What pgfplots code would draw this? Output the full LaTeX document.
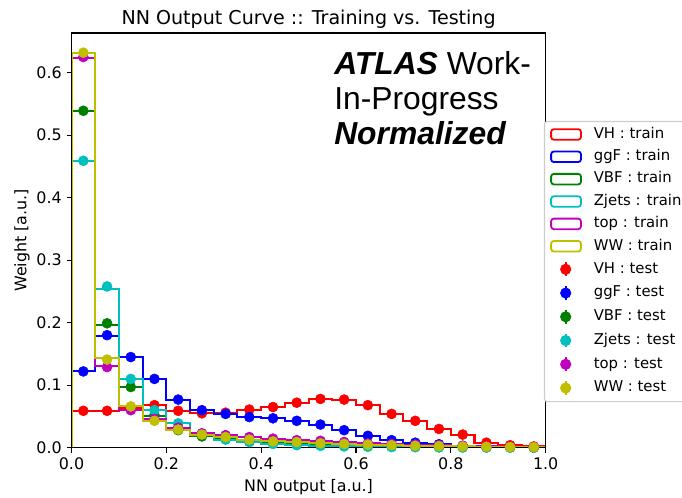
\documentclass[border=0pt]{standalone}
\usepackage{fontspec}
\setmainfont{DejaVu Sans}
\newfontfamily\lib{Liberation Sans}
\usepackage{pgfplots}
\usepackage{pgfplotstable}
\pgfplotsset{compat=1.18}

\definecolor{mr}{rgb}{1,0,0}
\definecolor{mb}{rgb}{0,0,1}
\definecolor{mg}{rgb}{0,0.5,0}
\definecolor{mc}{rgb}{0,0.75,0.75}
\definecolor{mm}{rgb}{0.75,0,0.75}
\definecolor{my}{rgb}{0.75,0.75,0}

% training histograms: x = left bin edge (const plot), first row opens, last row closes
\pgfplotstableread{
x     VH     ggF    VBF    Zjets  top    WW
0.00  0      0      0      0      0      0
0.00  0.059  0.122  0.538  0.459  0.624  0.632
0.05  0.059  0.179  0.196  0.254  0.130  0.143
0.10  0.063  0.145  0.097  0.110  0.060  0.066
0.15  0.068  0.110  0.051  0.060  0.046  0.043
0.20  0.059  0.077  0.028  0.039  0.032  0.029
0.25  0.055  0.060  0.018  0.022  0.023  0.021
0.30  0.056  0.054  0.014  0.013  0.020  0.017
0.35  0.061  0.049  0.010  0.009  0.017  0.013
0.40  0.065  0.047  0.008  0.006  0.0145 0.010
0.45  0.072  0.043  0.006  0.004  0.012  0.009
0.50  0.078  0.037  0.005  0.003  0.011  0.007
0.55  0.077  0.028  0.004  0.002  0.009  0.006
0.60  0.068  0.019  0.003  0.0015 0.007  0.005
0.65  0.054  0.012  0.002  0.001  0.006  0.004
0.70  0.043  0.008  0.0015 0.0008 0.005  0.003
0.75  0.030  0.0055 0.001  0.0005 0.004  0.0025
0.80  0.021  0.003  0.0008 0.0003 0.003  0.002
0.85  0.008  0.0015 0.0005 0.0002 0.002  0.0015
0.90  0.004  0.0008 0.0003 0.0001 0.0015 0.001
0.95  0.002  0.0003 0.0002 0.0001 0.001  0.0008
1.00  0      0      0      0      0      0
}\train

% testing points at bin centres
\pgfplotstableread{
x      VH     ggF    VBF    Zjets  top    WW
0.025  0.059  0.122  0.539  0.459  0.625  0.632
0.075  0.059  0.180  0.199  0.258  0.129  0.141
0.125  0.063  0.145  0.097  0.110  0.060  0.066
0.175  0.068  0.110  0.052  0.060  0.046  0.043
0.225  0.059  0.077  0.028  0.039  0.032  0.029
0.275  0.055  0.060  0.018  0.022  0.023  0.021
0.325  0.056  0.054  0.014  0.013  0.020  0.017
0.375  0.061  0.049  0.010  0.009  0.017  0.013
0.425  0.065  0.047  0.008  0.006  0.0145 0.010
0.475  0.072  0.043  0.006  0.004  0.012  0.009
0.525  0.078  0.037  0.005  0.003  0.011  0.007
0.575  0.077  0.028  0.004  0.002  0.009  0.006
0.625  0.068  0.019  0.003  0.0015 0.007  0.005
0.675  0.054  0.012  0.002  0.001  0.006  0.004
0.725  0.043  0.008  0.0015 0.0008 0.005  0.003
0.775  0.030  0.0055 0.001  0.0005 0.004  0.0025
0.825  0.021  0.003  0.0008 0.0003 0.003  0.002
0.875  0.008  0.0015 0.0005 0.0002 0.002  0.0015
0.925  0.004  0.0008 0.0003 0.0001 0.0015 0.001
0.975  0.002  0.0003 0.0002 0.0001 0.001  0.0008
}\test

\pgfplotsset{
  trainst/.style={const plot, no markers, line width=1.5pt, line join=miter,
    legend image code/.code={\draw[##1, line width=1.3pt] (1pt,-3.8pt) rectangle (22.5pt,3.8pt); \path (0pt,0pt) (28pt,0pt);}},
  testst/.style={only marks, mark=*, mark size=3.6pt,
    legend image code/.code={\draw[##1, line width=1.2pt] (11.5pt,-5pt) -- (11.5pt,5pt); \draw[##1] plot coordinates {(11.5pt,0pt)}; \path (0pt,0pt) (28pt,0pt);}},
}

\begin{document}
\begin{tikzpicture}
\useasboundingbox (-51.48pt,-36.22pt) rectangle (439.56pt,322.34pt);
\clip (-51.48pt,-36.22pt) rectangle (439.56pt,322.34pt);
\begin{axis}[
  at={(0pt,0pt)}, anchor=south west,
  scale only axis, width=341.4pt, height=298.6pt,
  xmin=0, xmax=1, ymin=0, ymax=0.6635,
  xtick={0,0.2,0.4,0.6,0.8,1.0},
  ytick={0,0.1,0.2,0.3,0.4,0.5,0.6},
  xticklabel style={/pgf/number format/.cd, fixed, fixed zerofill, precision=1},
  yticklabel style={/pgf/number format/.cd, fixed, fixed zerofill, precision=1},
  /pgf/number format/assume math mode=true,
  tick label style={font=\fontsize{11.45}{13.7}\selectfont},
  label style={font=\fontsize{11.45}{13.7}\selectfont},
  ylabel style={yshift=-2pt},
  title style={font=\fontsize{13.74}{16.5}\selectfont, yshift=-6.5pt},
  title={NN Output Curve :: Training vs. Testing},
  xlabel={NN output [a.u.]},
  ylabel={Weight [a.u.]},
  xtick pos=left, ytick pos=left,
  tick align=outside, major tick length=3.5pt,
  every tick/.style={black, line width=0.8pt},
  axis line style={line width=0.8pt},
  axis on top,
  legend cell align=left,
  legend style={at={(axis description cs:0.9964,0.7878)}, anchor=north west,
    font=\fontsize{10.7}{12.8}\selectfont, draw=black!20, fill=white, rounded corners=2pt,
    line width=0.8pt,
    nodes={text height=7.85pt, text depth=2.35pt, inner sep=0pt, inner xsep=3pt},
    row sep=5.9pt, inner ysep=4.2pt, inner xsep=3pt},
]
\addplot[trainst, color=mr] table[x=x, y=VH] {\train};
\addlegendentry{VH : train}
\addplot[trainst, color=mb] table[x=x, y=ggF] {\train};
\addlegendentry{ggF : train}
\addplot[trainst, color=mg] table[x=x, y=VBF] {\train};
\addlegendentry{VBF : train}
\addplot[trainst, color=mc] table[x=x, y=Zjets] {\train};
\addlegendentry{Zjets : train}
\addplot[trainst, color=mm] table[x=x, y=top] {\train};
\addlegendentry{top : train}
\addplot[trainst, color=my] table[x=x, y=WW] {\train};
\addlegendentry{WW : train}
\addplot[testst, color=mr] table[x=x, y=VH] {\test};
\addlegendentry{VH : test}
\addplot[testst, color=mb] table[x=x, y=ggF] {\test};
\addlegendentry{ggF : test}
\addplot[testst, color=mg] table[x=x, y=VBF] {\test};
\addlegendentry{VBF : test}
\addplot[testst, color=mc] table[x=x, y=Zjets] {\test};
\addlegendentry{Zjets : test}
\addplot[testst, color=mm] table[x=x, y=top] {\test};
\addlegendentry{top : test}
\addplot[testst, color=my] table[x=x, y=WW] {\test};
\addlegendentry{WW : test}
\node[anchor=base west, font=\lib\fontsize{22.9}{27.5}\selectfont, inner sep=0pt] at (axis description cs:0.5536,0.8987) {\textbf{\textit{ATLAS}} Work-};
\node[anchor=base west, font=\lib\fontsize{22.9}{27.5}\selectfont, inner sep=0pt] at (axis description cs:0.5536,0.8143) {In-Progress};
\node[anchor=base west, font=\lib\fontsize{22.9}{27.5}\selectfont, inner sep=0pt] at (axis description cs:0.5536,0.7299) {\textbf{\textit{Normalized}}};
\end{axis}
\end{tikzpicture}
\end{document}
